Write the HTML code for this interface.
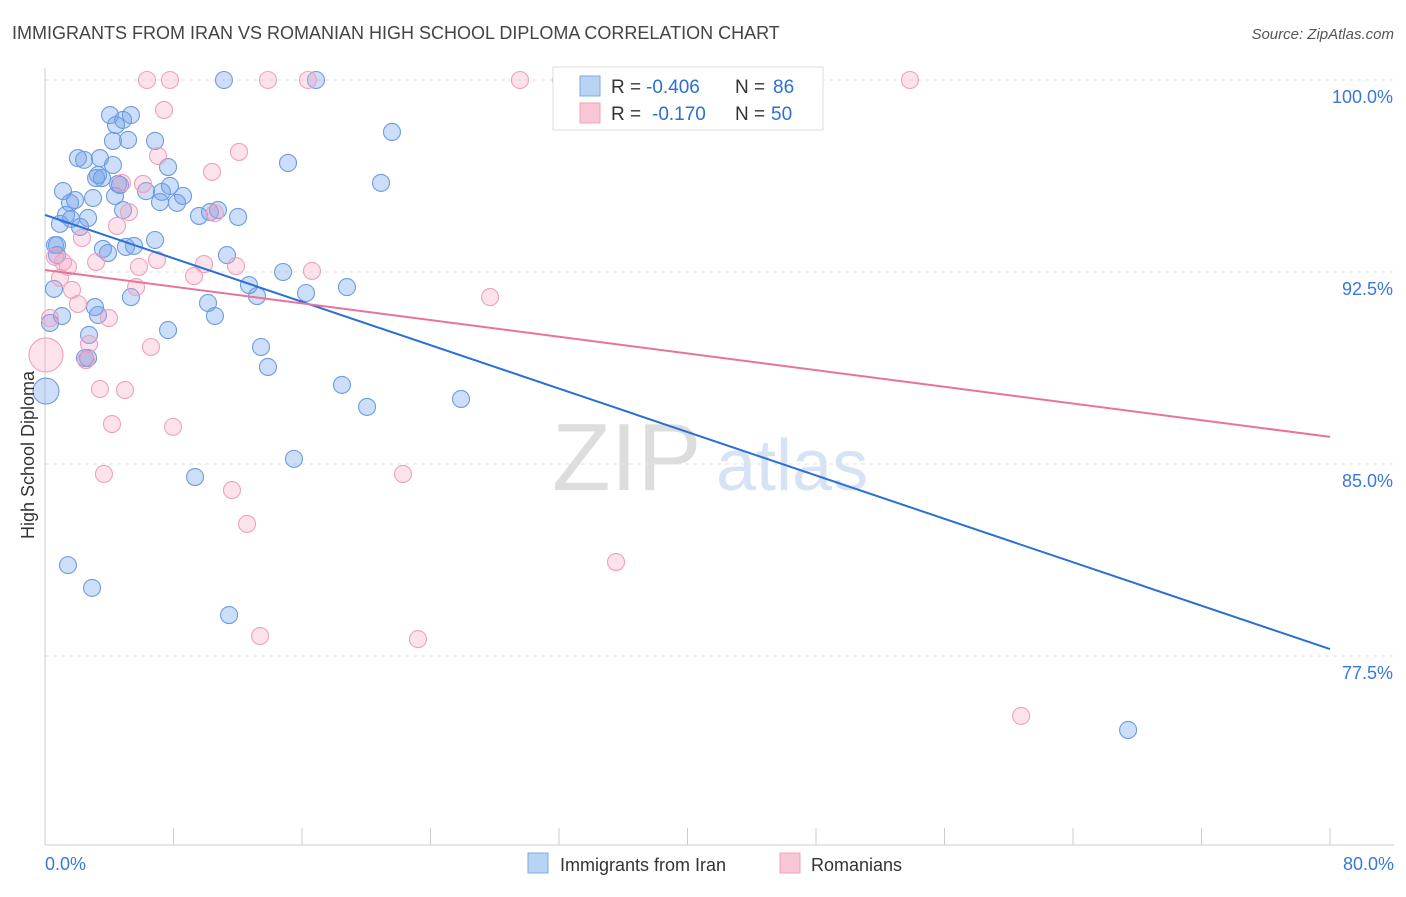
<!DOCTYPE html>
<html><head><meta charset="utf-8"><style>
body{margin:0;background:#fff;font-family:"Liberation Sans",sans-serif;}
svg text{font-family:"Liberation Sans",sans-serif;}
</style></head><body>
<svg id="chart" width="1406" height="892" xmlns="http://www.w3.org/2000/svg">
<text x="12" y="39" font-size="18" fill="#444">IMMIGRANTS FROM IRAN VS ROMANIAN HIGH SCHOOL DIPLOMA CORRELATION CHART</text>
<text x="1394" y="39" font-size="15" fill="#555" text-anchor="end" font-style="italic">Source: ZipAtlas.com</text>
<g>
<text x="552" y="490" font-size="96" fill="#ddd" font-family="Liberation Serif,serif">ZIP</text>
<text x="716" y="490" font-size="72" fill="#d5e3f5">atlas</text>
</g>
<g id="grid"></g><g id="marks"></g><g id="lines"></g>
<text transform="translate(34,455) rotate(-90)" font-size="18" fill="#333" text-anchor="middle">High School Diploma</text>
<g>
<rect x="553" y="67" width="270" height="63" fill="#fff" stroke="#ddd"/>
<rect x="580" y="76" width="20" height="20" fill="#b9d3f5" stroke="#7fa8e6"/>
<text x="611" y="93" font-size="19" fill="#333">R =</text>
<text x="646" y="93" font-size="19" fill="#2a6fd6">-0.406</text>
<text x="735" y="93" font-size="19" fill="#333">N =</text>
<text x="773" y="93" font-size="19" fill="#2a6fd6">86</text>
<rect x="580" y="103" width="20" height="20" fill="#f9c6d6" stroke="#f0a0bc"/>
<text x="611" y="120" font-size="19" fill="#333">R =</text>
<text x="652" y="120" font-size="19" fill="#2a6fd6">-0.170</text>
<text x="735" y="120" font-size="19" fill="#333">N =</text>
<text x="771" y="120" font-size="19" fill="#2a6fd6">50</text>
</g>
<g>
<rect x="528" y="853" width="20" height="20" fill="#b9d3f5" stroke="#7fa8e6"/>
<text x="560" y="871" font-size="18" fill="#333">Immigrants from Iran</text>
<rect x="780" y="853" width="20" height="20" fill="#f9c6d6" stroke="#f0a0bc"/>
<text x="811" y="871" font-size="18" fill="#333">Romanians</text>
</g>
</svg>
<script>
const xTicks=[0,8,16,24,32,40,48,56,64,72,80];
const yTicks=[100,92.5,85,77.5];
const yTickLabels=["100.0%","92.5%","85.0%","77.5%"];
const blueX=[11.14,16.87,4.05,5.35,4.86,4.42,21.6,6.85,4.23,5.17,2.05,2.43,3.42,4.23,7.66,15.13,3.3,3.55,3.18,4.67,4.55,20.92,1.12,7.78,6.29,7.28,8.59,1.87,1.56,2.99,4.36,7.16,8.22,4.86,1.31,1.62,2.68,9.59,10.27,10.77,12.02,0.93,2.18,0.62,0.75,3.61,5.04,3.92,5.54,6.85,11.33,0.75,14.82,12.7,18.8,0.56,13.2,16.25,5.35,3.11,10.15,10.58,3.3,1.06,0.31,2.74,7.66,13.45,2.49,2.68,13.88,18.49,0.06,25.9,20.05,15.5,9.34,1.43,2.93,11.46,67.43];
const blueY=[100,100,98.63,98.63,98.44,98.24,97.97,97.62,97.62,97.66,96.95,96.88,96.95,96.68,96.6,96.76,96.29,96.17,96.17,95.9,95.94,95.98,95.66,95.86,95.66,95.63,95.47,95.31,95.2,95.39,95.47,95.23,95.2,94.92,94.73,94.57,94.61,94.69,94.84,94.92,94.65,94.38,94.26,93.55,93.55,93.4,93.48,93.24,93.52,93.75,93.16,93.16,92.5,91.99,91.91,91.84,91.56,91.68,91.52,91.13,91.29,90.78,90.82,90.78,90.51,90.04,90.23,89.57,89.14,89.14,88.79,88.09,87.85,87.54,87.23,85.2,84.49,81.05,80.16,79.1,74.61];
const pinkX=[6.35,7.78,13.88,16.37,29.57,32.13,53.85,7.41,12.08,7.04,10.4,4.79,6.1,10.58,5.23,4.48,2.3,0.62,1.12,1.43,3.18,5.85,6.97,9.9,11.89,16.62,9.28,0.93,5.67,1.68,27.71,2.05,3.98,0.31,0.06,2.74,6.6,2.55,3.42,4.98,4.17,7.97,3.67,22.29,11.64,12.58,35.55,13.39,23.22,60.77];
const pinkY=[100,100,100,100,100,100,100,98.83,97.19,97.03,96.41,95.98,95.94,94.8,94.84,94.3,93.83,93.09,92.89,92.7,92.89,92.7,92.97,92.81,92.73,92.54,92.34,92.27,91.91,91.8,91.52,91.25,90.7,90.7,89.26,89.69,89.57,89.06,87.93,87.89,86.56,86.45,84.61,84.61,83.98,82.66,81.17,78.28,78.16,75.16];
const blueTrend=[94.73,77.77];
const pinkTrend=[92.58,86.06];
const NS="http://www.w3.org/2000/svg";
const X=v=>45+v/80*1285, Y=v=>80+(100-v)*25.6;
function mk(t,a,p){const e=document.createElementNS(NS,t);for(const k in a)e.setAttribute(k,a[k]);p.appendChild(e);return e;}
const grid=document.getElementById('grid'),marks=document.getElementById('marks'),lines=document.getElementById('lines');
yTicks.forEach((t,i)=>{
 const l=mk('line',{x1:45,x2:1394,y1:Y(t),y2:Y(t),stroke:'#e2e2e2','stroke-dasharray':'4,4'},grid);
 
 
 const tx=mk('text',{x:1393,y:Y(t)+23,'font-size':18,fill:'#3a78d6','text-anchor':'end'},grid);
 tx.textContent=yTickLabels[i];
 
 
});
const ax=mk('line',{x1:45,x2:1394,y1:845,y2:845,stroke:'#ccc'},grid);


const ay=mk('line',{x1:45,x2:45,y1:68,y2:845,stroke:'#ccc'},grid);


xTicks.forEach(t=>{
 const l=mk('line',{x1:X(t),x2:X(t),y1:828,y2:845,stroke:'#ccc'},grid);
 
 
});
[[0,'0.0%','start',45],[80,'80.0%','end',1394]].forEach(d=>{
 const tx=mk('text',{x:d[3],y:870,'font-size':18,fill:'#3a78d6','text-anchor':d[2]},grid);
 tx.textContent=d[1];
 
 
});
function dots(xs,ys,fill,stroke,name,bigR){
 xs.forEach((x,i)=>{
  const big=x<0.1;
  const c=mk('circle',{cx:X(x),cy:Y(ys[i]),r:big?bigR:8.5,fill:fill,stroke:stroke,'stroke-width':1.1},marks);
  
  
 });
}
dots(blueX,blueY,'rgba(110,160,235,0.35)','#6f9be0','iran-point',13);
dots(pinkX,pinkY,'rgba(245,160,190,0.3)','#f0a0bc','romanian-point',17);
const bl=mk('line',{x1:X(0),y1:Y(blueTrend[0]),x2:X(80),y2:Y(blueTrend[1]),stroke:'#2a6fd6','stroke-width':2},lines);


const pl=mk('line',{x1:X(0),y1:Y(pinkTrend[0]),x2:X(80),y2:Y(pinkTrend[1]),stroke:'#e8739a','stroke-width':2},lines);


</script>
</body></html>
